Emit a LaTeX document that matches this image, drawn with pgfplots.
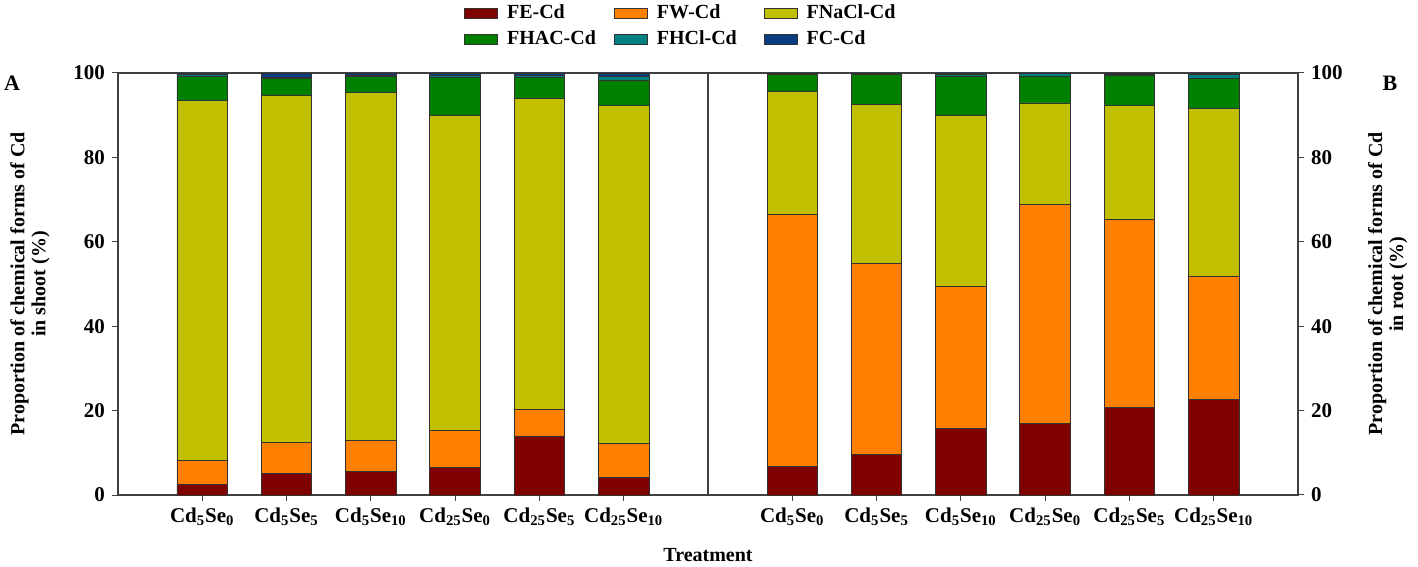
\documentclass[border=0pt]{standalone}
\usepackage{pgfplots}
\usepackage{pgfplotstable}
\pgfplotsset{compat=1.18}
\usepackage{fontspec}
\setmainfont{Liberation Serif}

\definecolor{cFE}{HTML}{7F0000}
\definecolor{cFW}{HTML}{FF8000}
\definecolor{cNaCl}{HTML}{C0C000}
\definecolor{cHAC}{HTML}{008000}
\definecolor{cHCl}{HTML}{008080}
\definecolor{cFC}{HTML}{0A3C80}

% shoot bars at x=1..6, root bars at x=8..13 (segment sizes, %)
\pgfplotstableread{
x  FE   FW   NaCl HAC HCl FC
1  2.6  5.5  85.3 5.8 0.4 0.4
2  5.1  7.3  82.2 4.1 0.3 1.0
3  5.5  7.5  82.3 3.9 0.3 0.5
4  6.5  8.8  74.6 9.0 0.6 0.5
5  14.0 6.4  73.6 5.0 0.5 0.5
6  4.1  8.1  80.2 5.9 0.8 0.9
8  6.7  59.7 29.3 4.0 0.2 0.1
9  9.7  45.1 37.8 7.1 0.2 0.1
10 15.8 33.6 40.5 9.4 0.4 0.3
11 17.0 51.9 24.0 6.4 0.5 0.2
12 20.8 44.4 27.2 7.0 0.3 0.3
13 22.6 29.3 39.7 7.1 1.0 0.3
}\cddata

\newcommand{\legtext}[1]{\makebox[46pt][l]{\hspace{2.5pt}#1}}

\begin{document}
\begin{tikzpicture}
\useasboundingbox (-59pt,-36pt) rectangle (650pt,247.5pt);
\pgfplotsset{
  panel/.style={
    scale only axis, width=590pt, height=211pt,
    xmin=0, xmax=14, ymin=0, ymax=100,
    ytick={0,20,...,100},
    tick align=outside, major tick length=3pt,
    axis line style={black!75, line width=0.6pt},
    every tick/.style={black!75, line width=0.5pt},
    /pgf/number format/assume math mode=true,
    tick label style={font=\bfseries\fontsize{10.5}{12}\selectfont},
    label style={font=\bfseries\fontsize{10}{10.5}\selectfont, align=center},
  }
}
\begin{axis}[
  panel,
  ybar stacked, bar width=0.6,
  xtick={1,2,3,4,5,6,8,9,10,11,12,13},
  xticklabels={Cd\textsubscript{5}Se\textsubscript{0},Cd\textsubscript{5}Se\textsubscript{5},Cd\textsubscript{5}Se\textsubscript{10},Cd\textsubscript{25}Se\textsubscript{0},Cd\textsubscript{25}Se\textsubscript{5},Cd\textsubscript{25}Se\textsubscript{10},
    Cd\textsubscript{5}Se\textsubscript{0},Cd\textsubscript{5}Se\textsubscript{5},Cd\textsubscript{5}Se\textsubscript{10},Cd\textsubscript{25}Se\textsubscript{0},Cd\textsubscript{25}Se\textsubscript{5},Cd\textsubscript{25}Se\textsubscript{10}},
  xtick pos=bottom, ytick pos=left,
  ylabel={Proportion of chemical forms of Cd\\in shoot (\%)},
  ylabel style={at={(axis description cs:-0.0746,0.5)}, anchor=center},
  xlabel={Treatment},
  xlabel style={at={(axis description cs:0.5,0)}, anchor=center, yshift=-30pt},
  legend columns=3, legend cell align=left,
  legend style={at={(axis description cs:0.288,1.181)}, anchor=north west,
    draw=none, fill=none, font=\bfseries\fontsize{10}{12}\selectfont,
    row sep=0.5pt,
    /tikz/every even column/.append style={column sep=8pt}},
  legend image code/.code={\draw[#1, draw=black!80] (0pt,-2.5pt) rectangle (16.5pt,2.5pt);},
]
\addplot[fill=cFE, draw=black!80] table[x=x, y=FE] {\cddata};
\addplot[fill=cFW, draw=black!80] table[x=x, y=FW] {\cddata};
\addplot[fill=cNaCl, draw=black!80] table[x=x, y=NaCl] {\cddata};
\addplot[fill=cHAC, draw=black!80] table[x=x, y=HAC] {\cddata};
\addplot[fill=cHCl, draw=black!80] table[x=x, y=HCl] {\cddata};
\addplot[fill=cFC, draw=black!80] table[x=x, y=FC] {\cddata};
\legend{\legtext{FE-Cd}, \legtext{FW-Cd}, \legtext{FNaCl-Cd}, \legtext{FHAC-Cd}, \legtext{FHCl-Cd}, \legtext{FC-Cd}}
\draw[black!75, line width=0.6pt] (axis cs:7,0) -- (axis cs:7,100);
\end{axis}
\begin{axis}[
  panel,
  axis x line=none, axis y line*=right,
  ytick pos=right,
  ylabel={Proportion of chemical forms of Cd\\in root (\%)},
  ylabel style={at={(axis description cs:1.076,0.5)}, anchor=center},
]
\end{axis}
\node[font=\bfseries\fontsize{11}{12}\selectfont] at (-53pt,206pt) {A};
\node[font=\bfseries\fontsize{11}{12}\selectfont] at (636pt,206pt) {B};
\end{tikzpicture}
\end{document}
